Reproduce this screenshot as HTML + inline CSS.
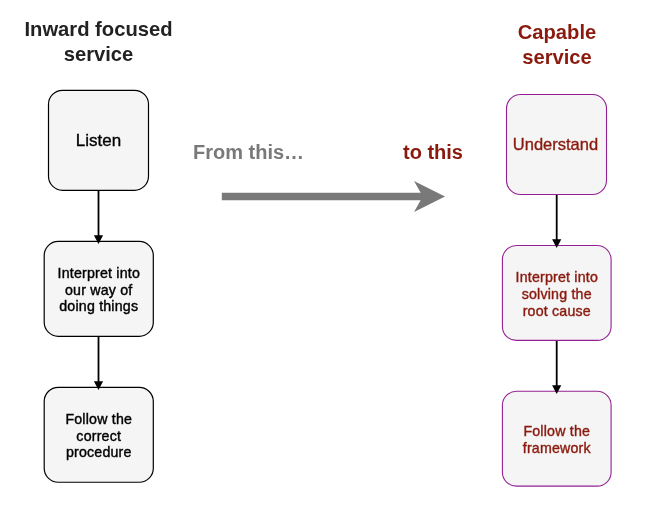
<!DOCTYPE html>
<html>
<head>
<meta charset="utf-8">
<style>
html,body{margin:0;padding:0;background:#ffffff;}
body{width:666px;height:513px;position:relative;overflow:hidden;font-family:"Liberation Sans",sans-serif;}
svg{position:absolute;left:0;top:0;}
.t{position:absolute;text-align:center;white-space:nowrap;will-change:transform;}
.h{font-weight:bold;font-size:20.2px;line-height:24.6px;color:#222222;}
.m{font-size:17px;line-height:20px;color:#000000;-webkit-text-stroke:0.35px currentColor;}
.b{font-size:14.2px;letter-spacing:0.2px;line-height:16.7px;color:#000000;-webkit-text-stroke:0.4px currentColor;}
.r{color:#8a1a0e;}
</style>
</head>
<body>
<svg width="666" height="513" viewBox="0 0 666 513">
  <g fill="#f5f5f5" stroke="#000000" stroke-width="1.2">
    <rect x="48.5" y="90.3" width="100" height="100" rx="14" ry="14"/>
    <rect x="44.2" y="241.45" width="109.1" height="94.85" rx="14" ry="14"/>
    <rect x="44.2" y="387.4" width="109.1" height="94.85" rx="14" ry="14"/>
  </g>
  <g fill="#f5f5f5" stroke="#942193" stroke-width="1.1">
    <rect x="506.5" y="94.5" width="100" height="100" rx="14" ry="14"/>
    <rect x="502.4" y="245.55" width="108.7" height="94.85" rx="14" ry="14"/>
    <rect x="502.4" y="391.3" width="108.7" height="94.85" rx="14" ry="14"/>
  </g>
  <g stroke="#000000" stroke-width="1.8" fill="#000000">
    <line x1="98.5" y1="191" x2="98.5" y2="236"/>
    <path d="M98.5 244 L93.9 235.2 L103.1 235.2 Z" stroke="none"/>
    <line x1="98.5" y1="337" x2="98.5" y2="382"/>
    <path d="M98.5 390 L93.9 381.2 L103.1 381.2 Z" stroke="none"/>
    <line x1="556.7" y1="195" x2="556.7" y2="240"/>
    <path d="M556.7 248.1 L552.1 239.3 L561.3 239.3 Z" stroke="none"/>
    <line x1="556.7" y1="341" x2="556.7" y2="386"/>
    <path d="M556.7 394.1 L552.1 385.3 L561.3 385.3 Z" stroke="none"/>
  </g>
  <g fill="#797979" stroke="none">
    <path d="M221.8 192.8 L420.7 192.8 L414 181 L445 196.5 L414 212 L420.65 200.3 L221.8 200.3 Z"/>
  </g>
</svg>
<div class="t h" id="h1" style="left:0;width:197px;top:16.7px;">Inward focused<br>service</div>
<div class="t h r" id="h2" style="left:456.5px;width:200px;top:19.7px;">Capable<br>service</div>
<div class="t h" id="from" style="left:192.6px;top:140px;font-size:20px;color:#797979;text-align:left;">From this…</div>
<div class="t h r" id="to" style="left:403.2px;top:140px;font-size:20px;text-align:left;">to this</div>
<div class="t m" id="b1" style="left:48px;width:101px;top:131px;">Listen</div>
<div class="t b" id="b2" style="left:44px;width:109.5px;top:265.4px;">Interpret into<br>our way of<br>doing things</div>
<div class="t b" id="b3" style="left:44px;width:109.5px;top:411.4px;">Follow the<br>correct<br>procedure</div>
<div class="t m r" id="b4" style="left:505.4px;width:101px;top:134.4px;font-size:16.5px;">Understand</div>
<div class="t b r" id="b5" style="left:502px;width:109.5px;top:269.1px;line-height:17px;">Interpret into<br>solving the<br>root cause</div>
<div class="t b r" id="b6" style="left:502px;width:109.5px;top:423.1px;">Follow the<br>framework</div>
</body>
</html>
